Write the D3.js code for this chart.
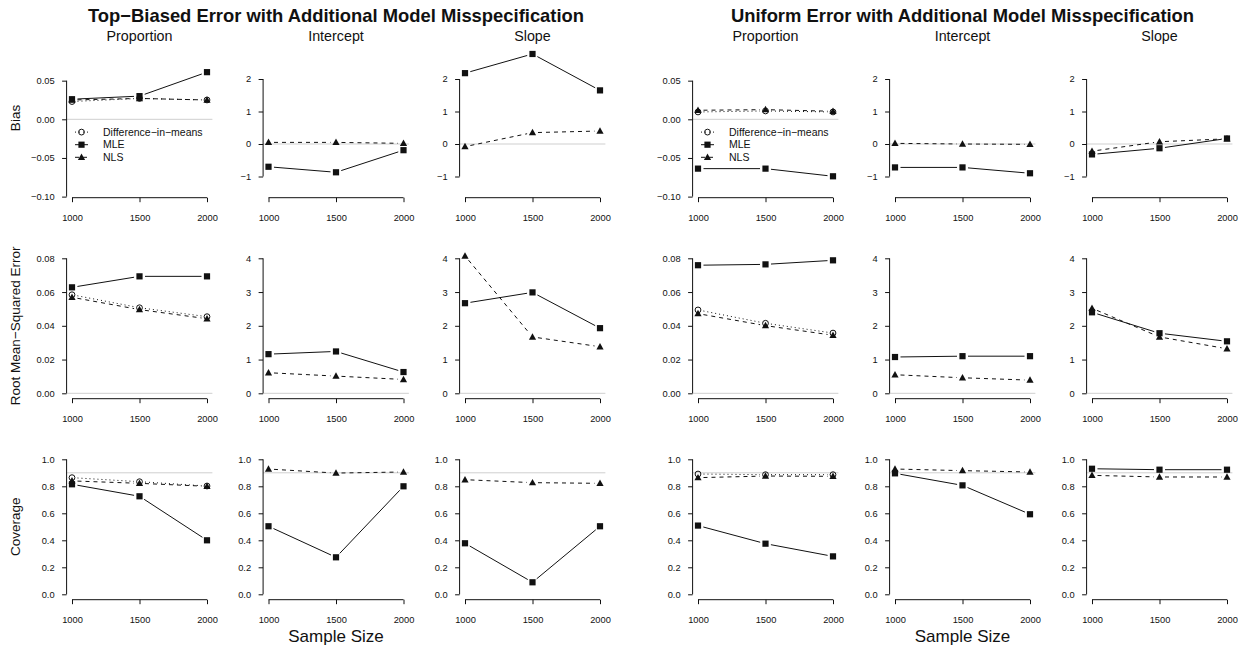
<!DOCTYPE html>
<html>
<head>
<meta charset="utf-8">
<script src="https://cdn.jsdelivr.net/npm/d3@7"></script>
<style>
  body { margin: 0; background: #fff; }
  svg { display: block; }
  text { font-family: "Liberation Sans", Arial, Helvetica, sans-serif; fill: #111; }
</style>
</head>
<body>
<svg id="chart" width="1247" height="648"></svg>
<script>
// ---- categories and labels ----
const sampleSizes = [1000, 1500, 2000];
const parameters = ["Proportion", "Intercept", "Slope"];
const metrics = ["Bias", "Root Mean\u2212Squared Error", "Coverage"];
const methodNames = ["Difference\u2212in\u2212means", "MLE", "NLS"];
const designTitles = [
  "Top\u2212Biased Error with Additional Model Misspecification",
  "Uniform Error with Additional Model Misspecification"
];

// ---- tick labels ----
const biasPropTicks = [-0.10, -0.05, 0.00, 0.05];
const biasCoefTicks = [-1, 0, 1, 2];
const rmsePropTicks = [0, 0.02, 0.04, 0.06, 0.08];
const rmseCoefTicks = [0, 1, 2, 3, 4];
const coverageTicks = [0, 0.2, 0.4, 0.6, 0.8, 1.0];
const referenceValues = [0, 0, 0.9];   // zero bias, zero error, nominal 90% coverage

// ---- top-biased error design ----
// difference-in-means only estimates the proportion; MLE / NLS rows: proportion, intercept, slope
const topBiasDIM = [0.023, 0.027, 0.025];
const topBiasMLE = [[0.026, 0.030, 0.061], [-0.70, -0.87, -0.19], [2.18, 2.77, 1.65]];
const topBiasNLS = [[0.025, 0.027, 0.025], [0.05, 0.05, 0.02], [-0.08, 0.35, 0.40]];
const topRmseDIM = [0.0584, 0.0507, 0.0454];
const topRmseMLE = [[0.0628, 0.0693, 0.0693], [1.16, 1.24, 0.63], [2.67, 2.99, 1.93]];
const topRmseNLS = [[0.0569, 0.0496, 0.0442], [0.61, 0.51, 0.41], [4.07, 1.67, 1.38]];
const topCoverageDIM = [0.864, 0.834, 0.802];
const topCoverageMLE = [[0.815, 0.726, 0.400], [0.504, 0.274, 0.800], [0.378, 0.089, 0.504]];
const topCoverageNLS = [[0.840, 0.822, 0.800], [0.928, 0.898, 0.906], [0.849, 0.827, 0.822]];

// ---- uniform error design ----
const uniBiasDIM = [0.0095, 0.0108, 0.0095];
const uniBiasMLE = [[-0.0638, -0.0638, -0.0737], [-0.72, -0.72, -0.90], [-0.32, -0.13, 0.17]];
const uniBiasNLS = [[0.0117, 0.0125, 0.0104], [0.02, 0.00, -0.01], [-0.22, 0.07, 0.16]];
const uniRmseDIM = [0.0494, 0.0415, 0.0357];
const uniRmseMLE = [[0.0759, 0.0764, 0.0788], [1.075, 1.10, 1.10], [2.40, 1.78, 1.54]];
const uniRmseNLS = [[0.0472, 0.0401, 0.0344], [0.55, 0.46, 0.39], [2.52, 1.67, 1.32]];
const uniCoverageDIM = [0.891, 0.886, 0.886];
const uniCoverageMLE = [[0.509, 0.375, 0.281], [0.896, 0.807, 0.593], [0.930, 0.923, 0.923]];
const uniCoverageNLS = [[0.864, 0.876, 0.874], [0.928, 0.916, 0.906], [0.881, 0.869, 0.869]];

// ---- assemble per design / metric ----
const designs = [
  { title: designTitles[0],
    dim: [topBiasDIM, topRmseDIM, topCoverageDIM],
    mle: [topBiasMLE, topRmseMLE, topCoverageMLE],
    nls: [topBiasNLS, topRmseNLS, topCoverageNLS] },
  { title: designTitles[1],
    dim: [uniBiasDIM, uniRmseDIM, uniCoverageDIM],
    mle: [uniBiasMLE, uniRmseMLE, uniCoverageMLE],
    nls: [uniBiasNLS, uniRmseNLS, uniCoverageNLS] }
];
const tickSets = [[biasPropTicks, biasCoefTicks], [rmsePropTicks, rmseCoefTicks], [coverageTicks, coverageTicks]];
const tickFormats = [[d3.format(".2f"), d3.format("d")], [d3.format(".2f"), d3.format("d")], [d3.format(".1f"), d3.format(".1f")]];

// ---- layout ----
const plotW = 145.8, plotH = 145.8;
const rowTop = [51.9, 252.9, 453.9];
const rowLabelY = [118, 325.8, 526.8];
const colLeft = [[66.6, 263.1, 459.6], [692.6, 889.6, 1086.6]];
// vertical extent of each plotting region: [proportion, coefficient]
const yExtent = [
  [[-0.1014, 0.0872], [-1.652, 2.834]],
  [[-0.0032, 0.0832], [-0.16, 4.16]],
  [[-0.04, 1.04], [-0.04, 1.04]]
];
const xExtent = [960, 2040];

const styles = {
  dim: { dash: "1,3", marker: "circle" },
  mle: { dash: null, marker: "square" },
  nls: { dash: "4,4", marker: "triangle" }
};
const ink = "#111";
const gap = 5.5;

const svg = d3.select("#chart");

function drawMarker(g, kind, x, y) {
  if (kind === "circle") {
    g.append("circle").attr("cx", x).attr("cy", y).attr("r", 2.9)
      .attr("fill", "none").attr("stroke", ink).attr("stroke-width", 1);
  } else if (kind === "square") {
    g.append("rect").attr("x", x - 3.1).attr("y", y - 3.1)
      .attr("width", 6.2).attr("height", 6.2).attr("fill", ink);
  } else {
    const s = 3.6;
    g.append("path")
      .attr("d", `M${x},${y - s * 1.05}L${x + s},${y + s * 0.75}L${x - s},${y + s * 0.75}Z`)
      .attr("fill", ink);
  }
}

// line segments broken around the points, with the points on top
function drawSeries(g, xs, ys, values, style) {
  const pts = values.map((v, i) => [xs(sampleSizes[i]), ys(v)]);
  for (let i = 0; i < pts.length - 1; i++) {
    const [x1, y1] = pts[i], [x2, y2] = pts[i + 1];
    const len = Math.hypot(x2 - x1, y2 - y1);
    if (len <= 2 * gap) continue;
    const ux = (x2 - x1) / len, uy = (y2 - y1) / len;
    const seg = g.append("line")
      .attr("x1", x1 + ux * gap).attr("y1", y1 + uy * gap)
      .attr("x2", x2 - ux * gap).attr("y2", y2 - uy * gap)
      .attr("stroke", ink).attr("stroke-width", 1);
    if (style.dash) seg.attr("stroke-dasharray", style.dash);
  }
  pts.forEach(([x, y]) => drawMarker(g, style.marker, x, y));
}

designs.forEach((design, d) => {
  // design title, centred over the middle column
  const midCol = colLeft[d][1] + plotW / 2;
  svg.append("text").attr("x", midCol).attr("y", 21.5)
    .attr("text-anchor", "middle").attr("font-weight", "bold")
    .attr("font-size", "18.4px").text(design.title);

  svg.append("text").attr("x", midCol).attr("y", 642)
    .attr("text-anchor", "middle").attr("font-size", "17px").text("Sample Size");

  parameters.forEach((param, p) => {
    const left = colLeft[d][p];
    svg.append("text").attr("x", left + plotW / 2).attr("y", 40.5)
      .attr("text-anchor", "middle").attr("font-size", "14.3px").text(param);

    metrics.forEach((metric, m) => {
      const top = rowTop[m];
      const kind = p === 0 ? 0 : 1;
      const xs = d3.scaleLinear().domain(xExtent).range([left, left + plotW]);
      const ys = d3.scaleLinear().domain(yExtent[m][kind]).range([top + plotH, top]);
      const ticks = tickSets[m][kind];
      const fmt = tickFormats[m][kind];
      const g = svg.append("g");

      // reference line across the plotting region
      g.append("line")
        .attr("x1", left).attr("x2", left + plotW)
        .attr("y1", ys(referenceValues[m])).attr("y2", ys(referenceValues[m]))
        .attr("stroke", "#cfcfcf").attr("stroke-width", 1);

      // y axis
      const ya = g.append("g").attr("transform", `translate(${left},0)`)
        .call(d3.axisLeft(ys).tickValues(ticks).tickFormat(fmt).tickSize(4.5).tickPadding(7.5).tickSizeOuter(0));
      ya.select(".domain").remove();
      ya.append("line").attr("x1", 0).attr("x2", 0)
        .attr("y1", ys(ticks[0])).attr("y2", ys(ticks[ticks.length - 1]))
        .attr("stroke", ink);

      // x axis
      const xa = g.append("g").attr("transform", `translate(0,${top + plotH})`)
        .call(d3.axisBottom(xs).tickValues(sampleSizes).tickFormat(d3.format("d")).tickSize(4.5).tickPadding(12).tickSizeOuter(0));
      xa.select(".domain").remove();
      xa.append("line").attr("y1", 0).attr("y2", 0)
        .attr("x1", xs(sampleSizes[0])).attr("x2", xs(sampleSizes[sampleSizes.length - 1]))
        .attr("stroke", ink);

      [ya, xa].forEach(a => {
        a.selectAll(".tick line").attr("stroke", ink);
        a.selectAll(".tick text").attr("font-size", "9.3px").attr("fill", ink)
          .attr("font-family", "'Liberation Sans', Arial, sans-serif");
      });

      // series
      if (p === 0) drawSeries(g, xs, ys, design.dim[m], styles.dim);
      drawSeries(g, xs, ys, design.mle[m][p], styles.mle);
      drawSeries(g, xs, ys, design.nls[m][p], styles.nls);

      // row labels on the left-hand design only
      if (d === 0 && p === 0) {
        svg.append("text")
          .attr("transform", `translate(20,${rowLabelY[m]}) rotate(-90)`)
          .attr("text-anchor", "middle").attr("font-size", "13.5px").text(metric);
      }

      // legend inside the proportion bias panel
      if (m === 0 && p === 0) {
        const lx = xs(sampleSizes[0]);
        const keys = ["dim", "mle", "nls"];
        keys.forEach((k, i) => {
          const ly = top + 80.2 + i * 12.6;
          const seg = g.append("line").attr("x1", lx + 3).attr("x2", lx + 16)
            .attr("y1", ly).attr("y2", ly).attr("stroke", ink).attr("stroke-width", 1);
          if (styles[k].dash) seg.attr("stroke-dasharray", styles[k].dash);
          drawMarker(g, styles[k].marker, lx + 9.5, ly);
          g.append("text").attr("x", lx + 31).attr("y", ly).attr("dy", "0.35em")
            .attr("font-size", "10.5px").text(methodNames[i]);
        });
      }
    });
  });
});
</script>
</body>
</html>
